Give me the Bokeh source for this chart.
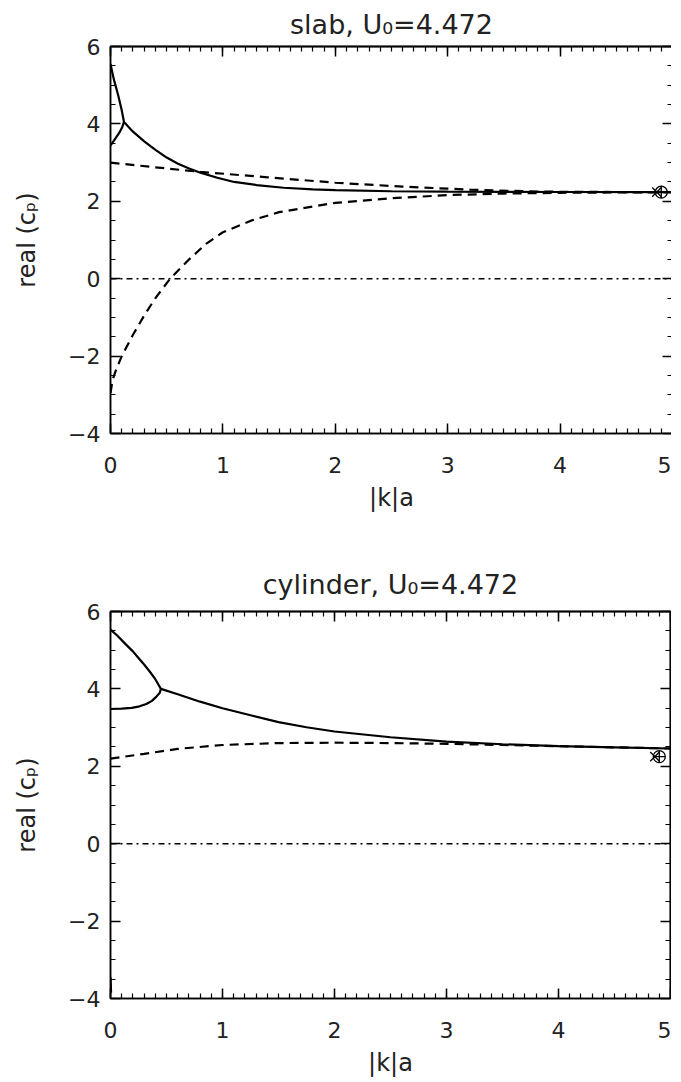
from bokeh.plotting import figure
from bokeh.models import LinearAxis, FixedTicker, Range1d
from bokeh.layouts import column
from bokeh.embed import file_html
from bokeh.resources import INLINE

# ---------------- data ----------------
x_major = [0, 1, 2, 3, 4, 5]
x_minor = [i / 10 for i in range(51)]
y_major = [-4, -2, 0, 2, 4, 6]
y_minor = [-4 + i / 2 for i in range(21)]
y_label_over = {-4: "\u22124", -2: "\u22122", 0: "0", 2: "2", 4: "4", 6: "6"}

# slab panel
slab_up_x = [0.0, 0.03, 0.07, 0.10, 0.12]
slab_up_y = [5.55, 5.15, 4.72, 4.35, 4.05]
slab_lo_x = [0.0, 0.02, 0.05, 0.08, 0.105, 0.12]
slab_lo_y = [3.45, 3.52, 3.65, 3.78, 3.92, 4.05]
slab_sol_x = [0.12, 0.2, 0.3, 0.4, 0.5, 0.6, 0.7, 0.8, 0.95, 1.1, 1.3, 1.54, 1.8, 2.0, 2.5, 3.0, 4.0, 5.0]
slab_sol_y = [4.05, 3.8, 3.55, 3.33, 3.13, 2.97, 2.85, 2.74, 2.61, 2.5, 2.42, 2.35, 2.31, 2.29, 2.26, 2.25, 2.24, 2.236]
slab_d1_x = [0.0, 0.36, 0.8, 1.4, 2.0, 2.6, 3.2, 3.8, 4.5, 5.0]
slab_d1_y = [3.0, 2.89, 2.76, 2.62, 2.48, 2.38, 2.30, 2.25, 2.24, 2.236]
slab_d2_x = [0.0, 0.02, 0.05, 0.1, 0.2, 0.3, 0.4, 0.53, 0.7, 0.85, 1.0, 1.25, 1.5, 2.0, 2.5, 3.0, 3.5, 4.0, 5.0]
slab_d2_y = [-2.95, -2.6, -2.35, -2.0, -1.45, -0.95, -0.5, 0.0, 0.5, 0.9, 1.2, 1.5, 1.72, 1.96, 2.08, 2.16, 2.2, 2.22, 2.236]
slab_mk_x = [4.86, 4.9]
slab_mk_y = [2.236, 2.236]

# cylinder panel
cyl_up_x = [0.0, 0.06, 0.13, 0.2, 0.25, 0.3, 0.35, 0.4, 0.43, 0.45]
cyl_up_y = [5.53, 5.38, 5.17, 4.97, 4.8, 4.63, 4.45, 4.25, 4.1, 4.0]
cyl_lo_x = [0.0, 0.1, 0.19, 0.26, 0.32, 0.37, 0.41, 0.44, 0.45]
cyl_lo_y = [3.48, 3.49, 3.51, 3.55, 3.61, 3.69, 3.8, 3.9, 4.0]
cyl_sol_x = [0.45, 0.6, 0.8, 1.0, 1.25, 1.5, 1.75, 2.0, 2.5, 3.0, 3.5, 4.0, 4.5, 5.0]
cyl_sol_y = [4.0, 3.86, 3.67, 3.5, 3.32, 3.14, 3.01, 2.9, 2.75, 2.64, 2.57, 2.52, 2.49, 2.46]
cyl_d1_x = [0.0, 0.3, 0.6, 1.0, 1.5, 2.0, 2.5, 3.0, 3.5, 4.0, 4.5, 5.0]
cyl_d1_y = [2.2, 2.32, 2.45, 2.55, 2.6, 2.61, 2.6, 2.58, 2.55, 2.52, 2.49, 2.46]
cyl_tail_x = [0.0, 0.005]
cyl_tail_y = [-3.45, -3.85]
cyl_mk_x = [4.86, 4.9]
cyl_mk_y = [2.25, 2.25]

zero_x = [0, 5]
zero_y = [0, 0]

FONT = "DejaVu Sans"
TXT = "#222222"


def style_ticks(ax, ticks, minor, major_len=10, minor_len=5):
    ax.ticker = FixedTicker(ticks=ticks, minor_ticks=minor)
    ax.major_tick_in = major_len
    ax.major_tick_out = 0
    ax.minor_tick_in = minor_len
    ax.minor_tick_out = 0
    ax.major_tick_line_width = 1.5
    ax.minor_tick_line_width = 1.5 if minor_len >= 10 else 1.2
    ax.major_tick_line_color = "black"
    ax.minor_tick_line_color = "black"
    ax.axis_line_color = "black"
    ax.axis_line_width = 1.5


def style_labels(ax):
    ax.major_label_text_font = FONT
    ax.major_label_text_font_size = "22px"
    ax.major_label_text_color = TXT
    ax.axis_label_text_font = FONT
    ax.axis_label_text_font_size = "24px"
    ax.axis_label_text_font_style = "normal"
    ax.axis_label_text_color = TXT


def mirror_axes(p, side, major, minor):
    # ticks only, no labels: short ticks at minor positions, long at major positions
    a1 = LinearAxis()
    style_ticks(a1, [], minor, minor_len=5)
    a1.major_label_standoff = 0
    p.add_layout(a1, side)
    a2 = LinearAxis()
    style_ticks(a2, [], major, minor_len=10)
    a2.major_label_standoff = 0
    p.add_layout(a2, side)


def panel(title, btop, bbot, bleft, fw, tstand, up, lo, sol, dashes, tail, mk):
    p = figure(frame_width=fw, frame_height=387,
               x_range=Range1d(0, 5), y_range=Range1d(-4, 6),
               output_backend="svg", toolbar_location=None, title=title,
               min_border_top=btop, min_border_bottom=bbot,
               min_border_left=bleft, min_border_right=1)
    p.xgrid.visible = False
    p.ygrid.visible = False
    p.outline_line_color = "black"
    p.outline_line_width = 1.5
    p.background_fill_color = "white"
    p.border_fill_color = "white"
    p.title.text_font = FONT
    p.title.text_font_size = "27px"
    p.title.text_font_style = "normal"
    p.title.text_color = TXT
    p.title.align = "center"
    p.title.standoff = tstand

    xa = p.xaxis[0]
    style_ticks(xa, x_major, x_minor)
    style_labels(xa)
    xa.axis_label = "|k|a"
    xa.major_label_standoff = 23
    xa.axis_label_standoff = 8
    ya = p.yaxis[0]
    style_ticks(ya, y_major, y_minor)
    style_labels(ya)
    ya.axis_label = "real (c\u209a)"
    ya.major_label_overrides = y_label_over
    ya.major_label_standoff = 10
    ya.axis_label_standoff = 24

    mirror_axes(p, "above", x_major, x_minor)
    mirror_axes(p, "right", y_major, y_minor)

    p.line(zero_x, zero_y, line_color="black", line_width=1.5, line_dash="6 4 2 4")
    for xs, ys in (up, lo, sol):
        p.line(xs, ys, line_color="black", line_width=2.2)
    if tail is not None:
        p.line(tail[0], tail[1], line_color="black", line_width=2.2)
    for xs, ys in dashes:
        p.line(xs, ys, line_color="black", line_width=2.2, line_dash="9 6")
    p.scatter([mk[0][0]], [mk[1][0]], marker="x", size=13, line_color="black", line_width=1.3)
    p.scatter([mk[0][1]], [mk[1][1]], marker="circle_cross", size=12, line_color="black",
              fill_color=None, line_width=1.3)
    return p


p1 = panel("slab, U\u2080=4.472", 44, 108, 108, 562, 13,
           (slab_up_x, slab_up_y), (slab_lo_x, slab_lo_y), (slab_sol_x, slab_sol_y),
           [(slab_d1_x, slab_d1_y), (slab_d2_x, slab_d2_y)], None,
           (slab_mk_x, slab_mk_y))
p2 = panel("cylinder, U\u2080=4.472", 70, 76, 110, 560, 24,
           (cyl_up_x, cyl_up_y), (cyl_lo_x, cyl_lo_y), (cyl_sol_x, cyl_sol_y),
           [(cyl_d1_x, cyl_d1_y)], (cyl_tail_x, cyl_tail_y),
           (cyl_mk_x, cyl_mk_y))

layout = column(p1, p2, spacing=0)
open("out.html", "w").write(file_html(layout, INLINE))
